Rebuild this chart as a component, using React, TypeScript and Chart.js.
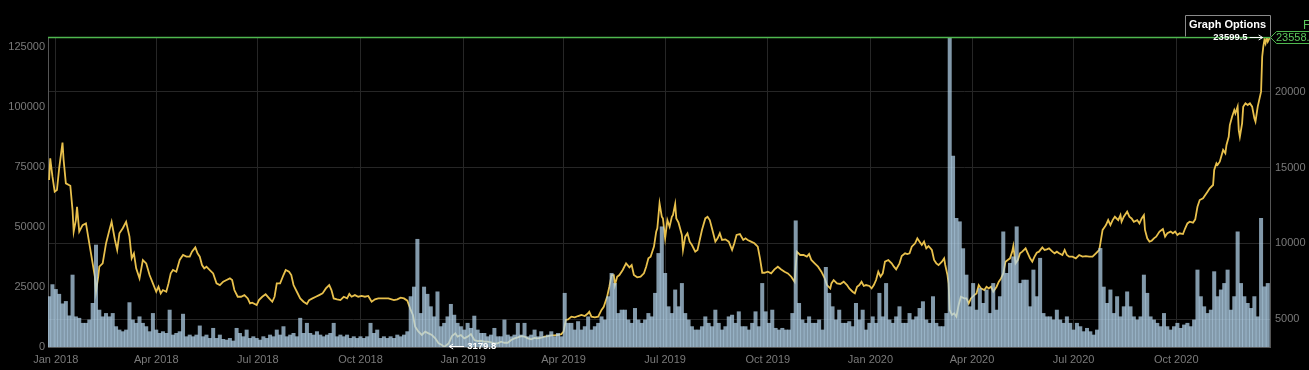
import React, { useEffect, useRef } from 'react';
import { Chart, registerables } from 'chart.js';

Chart.register(...registerables);

// ---------- data ----------
// x positions are day offsets from 2018-01-01
const xTickLabels = ['Jan 2018', 'Apr 2018', 'Jul 2018', 'Oct 2018', 'Jan 2019', 'Apr 2019', 'Jul 2019', 'Oct 2019', 'Jan 2020', 'Apr 2020', 'Jul 2020', 'Oct 2020'];
const volumeTicks = [0, 25000, 50000, 75000, 100000, 125000];
const priceTicks = [5000, 10000, 15000, 20000];

const priceLow = 3179.8;
const priceHigh = 23599.5;
const lastPrice = 23558.0;
const volumeMax = 129200;

const priceDays = [
  -6, -5, -3, -1, 1, 3, 6, 7, 9, 13,
  15, 16, 18, 19, 21, 24, 27, 30, 33, 35,
  36, 38, 39, 42, 45, 48, 50, 53, 55, 57,
  60, 63, 66, 68, 70, 72, 75, 78, 81, 84,
  87, 90, 92, 94, 96, 99, 101, 103, 105, 108,
  111, 114, 117, 120, 122, 125, 127, 129, 131, 133,
  135, 138, 141, 144, 147, 150, 153, 156, 158, 160,
  163, 166, 169, 172, 174, 176, 180, 182, 185, 188,
  192, 194, 196, 198, 201, 204, 206, 209, 211, 213,
  216, 219, 222, 225, 227, 230, 233, 236, 239, 242,
  245, 247, 249, 252, 255, 258, 261, 263, 265, 268,
  271, 274, 277, 280, 283, 286, 289, 294, 298, 303,
  306, 309, 312, 315, 318, 320, 322, 325, 328, 331,
  334, 337, 340, 343, 346, 348, 352, 355, 358, 360,
  363, 366, 369, 372, 375, 378, 381, 384, 387, 390,
  393, 396, 399, 402, 405, 408, 411, 414, 417, 420,
  423, 426, 429, 432, 435, 438, 441, 444, 447, 450,
  453, 455, 457, 459, 462, 465, 468, 471, 474, 477,
  478, 480, 483, 486, 489, 491, 494, 496, 498, 500,
  501, 503, 505, 508, 511, 514, 516, 518, 521, 524,
  527, 529, 531, 533, 536, 538, 539, 541, 543, 544,
  546, 548, 550, 552, 553, 555, 556, 558, 561, 562,
  564, 566, 568, 570, 573, 575, 577, 579, 582, 584,
  586, 588, 591, 593, 595, 597, 600, 603, 606, 608,
  610, 613, 616, 618, 620, 623, 626, 629, 631, 633,
  635, 638, 641, 644, 647, 650, 653, 656, 659, 662,
  663, 664, 667, 670, 673, 675, 677, 680, 683, 686,
  689, 691, 694, 695, 697, 700, 703, 706, 709, 711,
  714, 716, 718, 720, 722, 724, 726, 729, 731, 733,
  735, 737, 739, 741, 743, 746, 749, 751, 753, 756,
  758, 761, 763, 765, 767, 770, 772, 774, 776, 778,
  780, 782, 785, 787, 789, 791, 794, 796, 797, 799,
  800, 801, 803, 805, 807, 809, 811, 814, 816, 818,
  820, 823, 825, 827, 829, 832, 834, 836, 838, 840,
  843, 845, 847, 849, 851, 853, 855, 857, 858, 860,
  862, 864, 866, 869, 871, 873, 875, 877, 879, 881,
  884, 886, 888, 890, 893, 895, 897, 899, 902, 904,
  906, 908, 911, 914, 917, 920, 923, 926, 929, 932,
  935, 936, 938, 940, 941, 943, 945, 947, 949, 952,
  954, 955, 957, 960, 962, 964, 966, 969, 971, 973,
  975, 976, 978, 980, 982, 984, 986, 989, 992, 994,
  996, 999, 1001, 1003, 1005, 1007, 1010, 1012, 1014, 1016,
  1019, 1021, 1023, 1025, 1028, 1030, 1032, 1034, 1037, 1038,
  1040, 1041, 1043, 1046, 1048, 1049, 1051, 1052, 1054, 1056,
  1057, 1059, 1060, 1061, 1063, 1064, 1066, 1068, 1070, 1072,
  1074, 1075, 1077, 1078, 1080, 1081, 1082, 1083, 1084, 1085,
  1086, 1087, 1088,
];

const priceValues = [
  14180, 15610, 14400, 13410, 13520, 14950, 16640, 15500, 13960, 13800,
  12200, 10780, 11540, 12420, 10780, 11210, 11320, 10000, 8690, 7810,
  6820, 7810, 8470, 8690, 10000, 10880, 11430, 10230, 9570, 10670,
  11000, 11430, 10450, 9020, 9350, 8360, 7700, 8910, 8690, 7920,
  7370, 6820, 7150, 6710, 6930, 6820, 7370, 8030, 8250, 8140,
  8910, 9240, 9130, 9130, 9460, 9740, 9350, 9130, 8580, 8360,
  8470, 8250, 8030, 7370, 7260, 7480, 7590, 7700, 7590, 6930,
  6490, 6490, 6600, 6380, 6050, 6100, 5940, 6270, 6490, 6650,
  6320, 6160, 6490, 7370, 7370, 7920, 8250, 8140, 7920, 7260,
  6820, 6380, 6160, 6010, 6270, 6380, 6490, 6600, 6710, 7040,
  7260, 6930, 6380, 6320, 6270, 6490, 6380, 6670, 6490, 6600,
  6490, 6540, 6490, 6540, 6160, 6320, 6380, 6380, 6380, 6270,
  6320, 6430, 6380, 6230, 5620, 5290, 4520, 4190, 3970, 4190,
  4080, 3970, 3750, 3420, 3310, 3179.8, 3420, 3900, 4080, 3860,
  3970, 3750, 3860, 4030, 3640, 3570, 3590, 3530, 3530, 3480,
  3420, 3420, 3530, 3460, 3460, 3640, 3750, 3810, 3900, 3860,
  3750, 3680, 3770, 3750, 3790, 3860, 3900, 3950, 3950, 3970,
  4030, 4190, 4960, 5000, 5180, 5130, 5220, 5290, 5220, 5400,
  5500, 5180, 5130, 5180, 5620, 5830, 6490, 7150, 7920, 7920,
  7260, 7810, 7920, 8250, 8690, 8430, 8580, 7920, 7770, 7810,
  8030, 8470, 9020, 9130, 9790, 10780, 11000, 12640, 11760, 11650,
  10340, 11540, 11100, 11760, 11870, 12600, 11650, 11370, 10560, 9570,
  10450, 10670, 10120, 9900, 9460, 9570, 10230, 10890, 11650, 11760,
  11540, 10990, 10120, 10340, 10670, 10230, 10270, 10120, 9570, 10010,
  10560, 10620, 10230, 10340, 10230, 10120, 10010, 9790, 9020, 8070,
  8070, 8140, 8030, 8290, 8470, 8290, 8140, 8030, 7810, 7480,
  8470, 9460, 9240, 9240, 9130, 9300, 8910, 8690, 8470, 8140,
  7700, 7260, 7040, 7370, 7590, 7370, 7330, 7480, 7260, 7040,
  6820, 6710, 7150, 7260, 7480, 7200, 7260, 7200, 7040, 7260,
  7590, 8140, 7810, 8030, 8800, 8910, 8690, 8470, 8290, 8690,
  9170, 9350, 9300, 9350, 9790, 10010, 10340, 10120, 9900, 10120,
  9680, 9830, 9570, 8910, 8690, 8580, 8800, 9020, 8580, 7920,
  7370, 5620, 5290, 5400, 5180, 5950, 6490, 6380, 6380, 6050,
  6380, 6600, 6710, 7260, 7040, 6930, 7150, 7040, 7150, 6820,
  7150, 7480, 7700, 8030, 8800, 8910, 9020, 9460, 9830, 8690,
  8910, 9350, 9460, 9680, 9350, 9020, 8800, 9130, 9390, 9460,
  9740, 9570, 9610, 9680, 9460, 9350, 9460, 9350, 9240, 9570,
  9240, 9130, 9130, 9020, 9240, 9130, 9170, 9130, 9130, 9350,
  9570, 10010, 10890, 11100, 11210, 11540, 11210, 11540, 11760, 11540,
  11870, 11430, 11760, 12090, 11760, 11650, 11430, 11540, 11320, 11650,
  11870, 10890, 10340, 10120, 10180, 10340, 10450, 10780, 10950, 10450,
  10670, 10780, 10670, 10780, 10560, 10670, 10620, 11000, 11320, 11430,
  11370, 11590, 12420, 12860, 12970, 13190, 13410, 13630, 13850, 14840,
  15280, 15170, 15390, 16160, 15940, 16490, 17030, 17800, 18350, 18790,
  18570, 19010, 17470, 17030, 17910, 19010, 19230, 19120, 19230, 19010,
  18240, 18020, 19010, 19340, 20000, 22300, 22960, 23400, 23180, 23599.5,
  23300, 23450, 23558,
];

// volume, in thousands, one bar every 3 days starting at day -6
const volumeStartDay = -6;
const volumeStepDays = 3;
const volumeThousands = [
  21, 26, 24, 22, 18, 19, 13, 30, 12.6, 12,
  9.9, 9.9, 11.3, 18.2, 42.5, 15.4, 12.6, 14, 12.6, 14,
  8.5, 7.1, 6.4, 7.1, 18.5, 11.3, 9.9, 12.6, 9.9, 8.5,
  6.4, 14, 7.1, 5.7, 6.4, 5.7, 15.4, 5, 5.7, 6.4,
  13.7, 4.3, 5, 4.3, 5, 8.8, 4.3, 5, 3.6, 7.8,
  3.6, 5, 3.2, 2.9, 3.6, 2.5, 7.8, 5.7, 4.3, 7.1,
  3.6,
  4.3, 3.6, 2.9, 4.3, 3.6, 5, 4.3, 7.1, 5, 8.5,
  4.3, 5, 5.7, 4.3, 12, 5.7, 9.9, 5.7, 5, 6.4,
  5, 4.3, 5, 5.7, 9.9, 4.3, 5, 4.3, 5, 3.6,
  4.3, 3.6, 4.3, 3.6, 4.3, 9.9, 5.7, 7.1, 3.6, 4.3,
  3.6, 4.3, 3.6, 5, 4.3, 5, 6.4, 21, 25, 44.9,
  14, 25, 22, 16.8, 12.6, 23, 8.5, 9.9, 12.6, 17.8,
  13.3,
  9.9, 8.5, 7.1, 9.9, 7.8, 12.9, 7.1, 5.7, 5.7, 4.3,
  5, 7.8, 4.3, 4.3, 11.3, 5, 4.3, 5, 9.9, 5,
  9.9, 4.3, 5, 7.1, 4.3, 6.4, 4.3, 5, 6.4, 4.3,
  5.7, 4.3, 22.4, 9.9, 9.9, 7.1, 10.6, 7.1, 8.5, 12.6,
  7.1, 8.5, 9.9, 12.6, 11.3, 21, 30.7, 26.5, 14, 15.4,
  15.4, 11.3, 9.9, 16.1, 11.3, 9.9, 11.3, 14, 12.6, 22.4,
  39,
  50.1, 30.7, 16.8, 14, 23.8, 16.8, 26.5, 14, 11.3, 8.5,
  7.1, 7.1, 8.5, 12.6, 9.9, 8.5, 15.4, 9.9, 7.1, 8.5,
  12.6, 13.3, 9.9, 14.7, 8.5, 8.5, 7.1, 9.9, 14.7, 8.5,
  26.5, 14.7, 9.9, 15.4, 7.8, 7.1, 7.8, 7.1, 7.1, 14,
  52.6, 18.2, 11.3, 9.9, 12.6, 9.9, 9.9, 11.3, 7.1, 33.2,
  22.4, 16.8, 11.3, 15.4, 9.9, 9.9, 10.6, 8.5, 18.2, 11.3,
  15.4,
  7.1, 9.9, 12.6, 9.9, 22.4, 12.6, 26.5, 11.3, 9.9, 12.6,
  16.8, 9.9, 9.9, 14, 11.3, 12.6, 16.1, 18.9, 11.3, 9.9,
  21, 9.9, 8.5, 8.5, 14, 129.2, 79.6, 53.6, 52.2, 41,
  30, 16.8, 26.5, 15.4, 24.4, 18.2, 23.8, 14, 26.5, 15.4,
  21, 48, 30.7, 34.9, 37.6, 50.1, 26.5, 27.9, 27.9, 16.8,
  32.1, 21, 37, 14, 12.6, 12.6, 11.3, 15.4, 11.3, 9.9,
  12.6, 9.9, 7.1, 9.9, 8.5, 6.4, 7.8, 6.4, 5, 7.1,
  41.1, 25, 18.2, 23.8, 14, 21, 12.6, 16.8, 23, 16.8,
  12.6, 11.3, 12.6, 30, 22.4, 12.6, 11.3, 9.9, 8.5, 14,
  8.5, 7.1, 8.5, 9.9, 7.8, 9.2, 9.9, 8.5, 11.3, 32.1,
  21, 16.8, 14, 15.4, 31.4, 21, 23.8, 26.5, 32.1, 15.4,
  21, 48, 26.5, 21, 18.2, 16.1, 21, 12.6, 53.6, 25.1,
  26.5,
];

// ---------- helpers ----------
const MONTHS = ['Jan', 'Feb', 'Mar', 'Apr', 'May', 'Jun', 'Jul', 'Aug', 'Sep', 'Oct', 'Nov', 'Dec'];
const BASE = Date.UTC(2018, 0, 1);
const dayOfLabel = (label: string) => {
  const [m, y] = label.split(' ');
  return Math.round((Date.UTC(Number(y), MONTHS.indexOf(m), 1) - BASE) / 86400000);
};
const xTickDays = xTickLabels.map(dayOfLabel);

const FONT = '"Liberation Sans", Arial, sans-serif';
const AXIS_TEXT = '#7a7a7a';
const GRID = '#262626';
const BORDER = '#555555';
const GREEN = '#4fb84f';

const overlayPlugin = {
  id: 'overlay',
  afterDraw(chart: any) {
    const { ctx, chartArea: a, scales } = chart;
    const xs = scales.x;
    const ys = scales.yPrice;
    ctx.save();

    // last price line and tag
    const yl = Math.round(ys.getPixelForValue(lastPrice)) - 0.5;
    ctx.strokeStyle = GREEN;
    ctx.lineWidth = 1.6;
    ctx.beginPath();
    ctx.moveTo(a.left, yl);
    ctx.lineTo(a.right, yl);
    ctx.stroke();

    ctx.lineWidth = 1;
    ctx.beginPath();
    ctx.moveTo(a.right + 0.5, yl);
    ctx.lineTo(a.right + 6.5, yl - 6);
    ctx.lineTo(a.right + 70, yl - 6);
    ctx.lineTo(a.right + 70, yl + 6);
    ctx.lineTo(a.right + 6.5, yl + 6);
    ctx.closePath();
    ctx.fillStyle = '#000';
    ctx.fill();
    ctx.stroke();
    ctx.fillStyle = '#5cc85c';
    ctx.font = `11px ${FONT}`;
    ctx.textBaseline = 'middle';
    ctx.textAlign = 'left';
    ctx.fillText(lastPrice.toFixed(1), a.right + 6, yl + 0.5);
    ctx.font = `12px ${FONT}`;
    ctx.fillText('F', a.right + 33, yl - 11.5);

    // Graph Options box
    const bx = a.right - 84.5;
    const by = 15.5;
    ctx.fillStyle = '#000';
    ctx.fillRect(bx, by, 84.5, yl - by - 1);
    ctx.strokeStyle = '#8a8a8a';
    ctx.beginPath();
    ctx.moveTo(bx, yl - 1);
    ctx.lineTo(bx, by);
    ctx.lineTo(a.right + 0.5, by);
    ctx.lineTo(a.right + 0.5, yl - 1);
    ctx.stroke();
    ctx.fillStyle = '#ffffff';
    ctx.font = `bold 11px ${FONT}`;
    ctx.textAlign = 'center';
    ctx.fillText('Graph Options', bx + 42, by + 9.5);

    // high / low labels
    let iMax = 0;
    let iMin = 0;
    priceValues.forEach((v, i) => {
      if (v > priceValues[iMax]) iMax = i;
      if (v < priceValues[iMin]) iMin = i;
    });
    ctx.strokeStyle = '#ffffff';
    ctx.fillStyle = '#ffffff';
    ctx.lineWidth = 1;
    ctx.font = `bold 9.5px ${FONT}`;

    const hx = xs.getPixelForValue(priceDays[iMax]);
    const hy = ys.getPixelForValue(priceValues[iMax]) + 0.5;
    ctx.beginPath();
    ctx.moveTo(hx - 17, hy);
    ctx.lineTo(hx - 4, hy);
    ctx.moveTo(hx - 8, hy - 2.5);
    ctx.lineTo(hx - 4, hy);
    ctx.lineTo(hx - 8, hy + 2.5);
    ctx.stroke();
    ctx.textAlign = 'right';
    ctx.fillText(String(priceValues[iMax]), hx - 19, hy);

    const lx = xs.getPixelForValue(priceDays[iMin]);
    const ly = ys.getPixelForValue(priceValues[iMin]) - 0.5;
    ctx.beginPath();
    ctx.moveTo(lx + 5, ly);
    ctx.lineTo(lx + 20, ly);
    ctx.moveTo(lx + 9, ly - 2.5);
    ctx.lineTo(lx + 5, ly);
    ctx.lineTo(lx + 9, ly + 2.5);
    ctx.stroke();
    ctx.textAlign = 'left';
    ctx.fillText(priceValues[iMin].toFixed(1), lx + 23, ly);

    ctx.restore();
  },
};

export default function App() {
  const ref = useRef<HTMLCanvasElement>(null);

  useEffect(() => {
    document.documentElement.style.background = '#000';
    document.body.style.margin = '0';
    document.body.style.background = '#000';

    const volumeData = volumeThousands.map((v, i) => ({ x: volumeStartDay + i * volumeStepDays, y: v * 1000 }));
    const priceData = priceDays.map((d, i) => ({ x: d, y: priceValues[i] }));

    const chart = new Chart(ref.current as HTMLCanvasElement, {
      type: 'bar',
      data: {
        datasets: [
          {
            type: 'bar',
            label: 'Volume',
            data: volumeData as any,
            xAxisID: 'x',
            yAxisID: 'yVol',
            backgroundColor: 'rgba(180, 212, 236, 0.72)',
            borderWidth: 0,
            barPercentage: 1,
            categoryPercentage: 1,
            order: 0,
          } as any,
          {
            type: 'line',
            label: 'Price',
            data: priceData as any,
            xAxisID: 'x',
            yAxisID: 'yPrice',
            borderColor: '#e8c04c',
            borderWidth: 1.8,
            pointRadius: 0,
            fill: false,
            tension: 0,
            order: 1,
          } as any,
        ],
      },
      options: {
        animation: false,
        responsive: false,
        devicePixelRatio: 1,
        layout: { padding: { top: 37, left: 0, right: 0, bottom: 0 } },
        plugins: { legend: { display: false }, tooltip: { enabled: false } },
        scales: {
          x: {
            type: 'linear',
            min: -7,
            max: 1088,
            offset: false,
            afterBuildTicks: (s: any) => {
              s.ticks = xTickDays.map((v) => ({ value: v }));
            },
            afterFit: (s: any) => {
              s.height = 23;
            },
            ticks: {
              autoSkip: false,
              maxRotation: 0,
              color: AXIS_TEXT,
              padding: 6,
              font: { family: FONT, size: 11 },
              callback: (_v: any, i: number) => xTickLabels[i],
            },
            grid: { color: GRID, drawTicks: false, offset: false },
            border: { color: BORDER },
          },
          yVol: {
            type: 'linear',
            position: 'left',
            min: 0,
            max: volumeMax,
            afterBuildTicks: (s: any) => {
              s.ticks = volumeTicks.map((v) => ({ value: v }));
            },
            afterFit: (s: any) => {
              s.width = 48;
            },
            ticks: {
              color: AXIS_TEXT,
              padding: 3,
              font: { family: FONT, size: 11 },
              callback: (v: any) => String(v),
            },
            grid: { display: false, drawTicks: false },
            border: { color: BORDER },
          },
          yPrice: {
            type: 'linear',
            position: 'right',
            min: priceLow,
            max: priceHigh,
            afterBuildTicks: (s: any) => {
              s.ticks = priceTicks.map((v) => ({ value: v }));
            },
            afterFit: (s: any) => {
              s.width = 39;
            },
            ticks: {
              color: AXIS_TEXT,
              padding: 5,
              font: { family: FONT, size: 11 },
              callback: (v: any) => String(v),
            },
            grid: { color: GRID, drawTicks: false },
            border: { color: BORDER },
          },
        } as any,
      },
      plugins: [overlayPlugin],
    });

    return () => chart.destroy();
  }, []);

  return (
    <div style={{ width: 1309, height: 370, background: '#000', overflow: 'hidden' }}>
      <canvas ref={ref} width={1309} height={370} style={{ display: 'block' }} />
    </div>
  );
}
